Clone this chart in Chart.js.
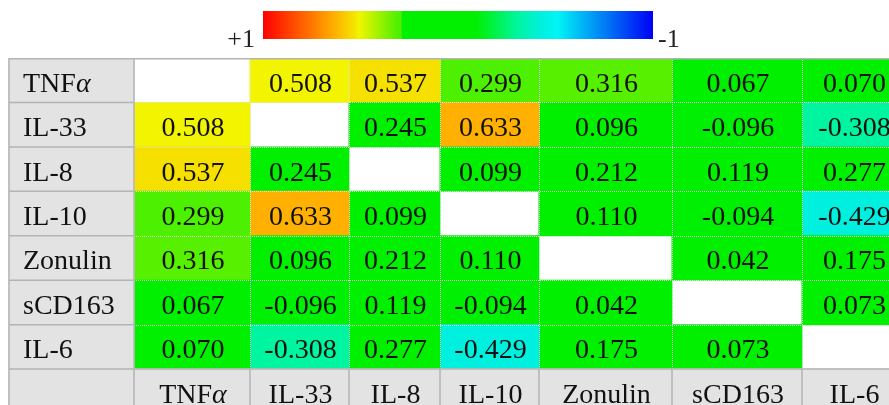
<!DOCTYPE html>
<html><head><meta charset="utf-8">
<script src="https://cdn.jsdelivr.net/npm/chart.js@4/dist/chart.umd.min.js"></script>
<style>
html,body{margin:0;padding:0;overflow:hidden;background:#fff;width:889px;height:405px}
#wrap{position:absolute;left:0;top:0;width:889px;height:414px}
</style></head><body><div id="wrap"><canvas id="c"></canvas></div>
<script>
// ---- data ----
const variables = ['TNFα','IL-33','IL-8','IL-10','Zonulin','sCD163','IL-6'];
const rTNFa    = [null, 0.508, 0.537, 0.299, 0.316, 0.067, 0.070];
const rIL33    = [0.508, null, 0.245, 0.633, 0.096, -0.096, -0.308];
const rIL8     = [0.537, 0.245, null, 0.099, 0.212, 0.119, 0.277];
const rIL10    = [0.299, 0.633, 0.099, null, 0.110, -0.094, -0.429];
const rZonulin = [0.316, 0.096, 0.212, 0.110, null, 0.042, 0.175];
const rSCD163  = [0.067, -0.096, 0.119, -0.094, 0.042, null, 0.073];
const rIL6     = [0.070, -0.308, 0.277, -0.429, 0.175, 0.073, null];
const scaleTicks = ['+1', '-1'];

// ---- layout / style ----
const matrix = [rTNFa, rIL33, rIL8, rIL10, rZonulin, rSCD163, rIL6];
const rowLabels = variables.concat(['']);
const colEdges = [9, 134, 250, 349, 440, 539, 672, 802, 905]; // table column widths (layout)
const headerFill = '#e3e3e3';
const gridGray = '#b4b4b4';
const FONT = '"Liberation Serif", "Times New Roman", serif';
const colorStops = [
  [1, '#ff0000'], [0.633, '#ffb000'], [0.537, '#f6e000'], [0.508, '#f3f500'],
  [0.32, '#58f000'], [0.29, '#48f000'], [0.289, '#00f000'], [-0.09, '#00f000'],
  [-0.308, '#00f5a0'], [-0.43, '#00f0e0'], [-0.51, '#00f5f5'], [-1, '#0000f5']
];
function hex2rgb(h){return [1,3,5].map(i=>parseInt(h.substr(i,2),16));}
function colorFor(v){
  for (let i=0;i<colorStops.length-1;i++){
    const [v0,c0]=colorStops[i],[v1,c1]=colorStops[i+1];
    if (v<=v0 && v>=v1){
      const t=(v0-v)/(v0-v1||1), a=hex2rgb(c0), b=hex2rgb(c1);
      return 'rgb('+a.map((x,k)=>Math.round(x+(b[k]-x)*t)).join(',')+')';
    }
  }
  return colorStops[v>0?0:colorStops.length-1][1];
}

const nRows = rowLabels.length;
const datasets = [];
for (let c = 0; c < colEdges.length - 1; c++) {
  const data = [], bg = [];
  for (let r = 0; r < nRows; r++) {
    const isHeader = c === 0 || r === nRows - 1;
    if (isHeader) { data.push([colEdges[c], colEdges[c+1]]); bg.push(headerFill); continue; }
    const v = matrix[r][c-1];
    if (v === null) { data.push(null); bg.push('rgba(0,0,0,0)'); }
    else { data.push([colEdges[c], colEdges[c+1]]); bg.push(colorFor(v)); }
  }
  datasets.push({data, backgroundColor: bg, borderWidth: 0, barPercentage: 1, categoryPercentage: 1, grouped: false, inflateAmount: 0.5});
}

function drawLabel(ctx, text, x, y, align){
  // Greek alpha drawn in italic as in the reference
  const parts = [];
  let buf = '';
  for (const ch of text){
    if (ch === 'α'){ if (buf) parts.push([buf,false]); parts.push([ch,true]); buf=''; }
    else buf += ch;
  }
  if (buf) parts.push([buf,false]);
  let total = 0;
  const widths = parts.map(([s,it])=>{ctx.font=(it?'italic ':'')+'28px '+FONT; const w=ctx.measureText(s).width; total+=w; return w;});
  let cx = align==='left' ? x : x - total/2;
  ctx.textAlign='left';
  parts.forEach(([s,it],i)=>{ctx.font=(it?'italic ':'')+'28px '+FONT; ctx.fillText(s,cx,y); cx+=widths[i];});
}

const tablePlugin = {
  id: 'tablePlugin',
  afterDatasetsDraw(chart){
    const ctx = chart.ctx, xs = chart.scales.x, ys = chart.scales.y;
    const rowEdge = r => r<=0 ? chart.chartArea.top : (r>=nRows ? chart.chartArea.bottom : (ys.getPixelForValue(r-1)+ys.getPixelForValue(r))/2);
    const colX = c => xs.getPixelForValue(colEdges[c]);
    const right = chart.chartArea.right;
    ctx.save();
    // dotted light lines between data cells
    ctx.strokeStyle = 'rgba(225,225,225,1)';
    ctx.lineWidth = 1;
    ctx.setLineDash([1,1]);
    for (let c=2;c<colEdges.length-1;c++){
      const x=Math.round(colX(c))+0.5;
      ctx.beginPath(); ctx.moveTo(x,rowEdge(0)); ctx.lineTo(x,rowEdge(nRows-1)); ctx.stroke();
    }
    for (let r=1;r<nRows-1;r++){
      const y=Math.round(rowEdge(r))+0.5;
      ctx.beginPath(); ctx.moveTo(colX(1),y); ctx.lineTo(right,y); ctx.stroke();
    }
    ctx.setLineDash([]);
    // solid gray borders of header cells
    ctx.strokeStyle = gridGray;
    ctx.lineWidth = 1.5;
    ctx.beginPath();
    ctx.moveTo(colX(0),rowEdge(0)+0.75); ctx.lineTo(right,rowEdge(0)+0.75);
    ctx.moveTo(colX(0),rowEdge(nRows-1)); ctx.lineTo(right,rowEdge(nRows-1));
    for (let r=1;r<nRows-1;r++){ ctx.moveTo(colX(0),rowEdge(r)); ctx.lineTo(colX(1),rowEdge(r)); }
    ctx.moveTo(colX(0),rowEdge(0)); ctx.lineTo(colX(0),chart.chartArea.bottom);
    ctx.moveTo(colX(1),rowEdge(0)); ctx.lineTo(colX(1),chart.chartArea.bottom);
    for (let c=2;c<colEdges.length-1;c++){ ctx.moveTo(colX(c),rowEdge(nRows-1)); ctx.lineTo(colX(c),chart.chartArea.bottom); }
    ctx.stroke();
    // texts
    ctx.fillStyle = '#111';
    ctx.textBaseline = 'alphabetic';
    chart.data.datasets.forEach((ds, c) => {
      const meta = chart.getDatasetMeta(c);
      meta.data.forEach((el, r) => {
        if (ds.data[r] === null || ds.data[r] === undefined) return;
        const p = el.getProps(['x','y','base'], true);
        const yb = p.y + 11.5;
        if (c === 0) { drawLabel(ctx, rowLabels[r], p.base + 14, yb, 'left'); }
        else if (r === nRows - 1) { drawLabel(ctx, variables[c-1], (p.x + p.base)/2 + 1, yb, 'center'); }
        else { drawLabel(ctx, matrix[r][c-1].toFixed(3), (p.x + p.base)/2 + 1, yb, 'center'); }
      });
    });
    ctx.restore();
  },
  afterDraw(chart){
    // color scale legend
    const ctx = chart.ctx;
    const x0 = 263, x1 = 653, y0 = 11, y1 = 39;
    const g = ctx.createLinearGradient(x0,0,x1,0);
    colorStops.forEach(([v,c]) => g.addColorStop((1-v)/2, c));
    ctx.save();
    ctx.fillStyle = g;
    ctx.fillRect(x0,y0,x1-x0,y1-y0);
    ctx.fillStyle = '#222';
    ctx.font = '26px ' + FONT;
    ctx.textBaseline = 'alphabetic';
    ctx.textAlign = 'right';
    ctx.fillText(scaleTicks[0], x0 - 8, 47);
    ctx.textAlign = 'left';
    ctx.fillText(scaleTicks[1], x1 + 5, 47);
    ctx.restore();
  }
};

new Chart(document.getElementById('c'), {
  type: 'bar',
  data: { labels: rowLabels, datasets },
  options: {
    indexAxis: 'y',
    responsive: true,
    maintainAspectRatio: false,
    animation: false,
    devicePixelRatio: 1,
    layout: { padding: { top: 58, bottom: 0.5, left: 0, right: 0 } },
    plugins: { legend: { display: false }, tooltip: { enabled: false } },
    scales: {
      x: { type: 'linear', min: 0, max: 889, display: false },
      y: { type: 'category', display: false, offset: true }
    }
  },
  plugins: [tablePlugin]
});
</script></body></html>
